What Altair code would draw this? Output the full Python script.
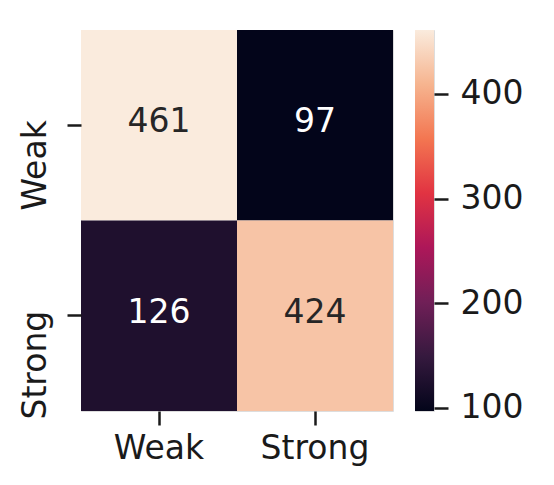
import altair as alt
import pandas as pd

# ---- data ----
categories = ["Weak", "Strong"]
actual = ["Weak", "Weak", "Strong", "Strong"]
predicted = ["Weak", "Strong", "Weak", "Strong"]
counts = [461, 97, 126, 424]

# rocket colormap stops (seaborn)
rocket_colors = ["#03051a", "#35193e", "#701f57", "#ad1759",
                 "#e13342", "#f37651", "#f6b48f", "#faebdd"]
vmin, vmax = 97, 461
cbar_ticks = [100, 200, 300, 400]

df = pd.DataFrame({"actual": actual, "predicted": predicted, "count": counts})
n = len(rocket_colors)
stops_domain = [vmin + (vmax - vmin) * i / (n - 1) for i in range(n)]
color_scale = alt.Scale(domain=stops_domain, range=rocket_colors, interpolate="rgb")

FONT = "DejaVu Sans"
FS = 33
TXT = "#1a1a1a"

axis_common = dict(domain=False, tickSize=14, tickWidth=2.5, tickColor=TXT,
                   labelFontSize=FS, labelColor=TXT, labelFont=FONT, grid=False)

base = alt.Chart(df).encode(
    x=alt.X("predicted:N", sort=categories, title=None,
            scale=alt.Scale(paddingInner=0, paddingOuter=0),
            axis=alt.Axis(labelAngle=0, labelPadding=7, **axis_common)),
    y=alt.Y("actual:N", sort=categories, title=None,
            scale=alt.Scale(paddingInner=0, paddingOuter=0),
            axis=alt.Axis(labelAngle=270, labelAlign="right", labelBaseline="bottom",
                          labelOffset=-5, labelPadding=15, **axis_common)),
)

rect = base.mark_rect().encode(
    color=alt.Color("count:Q", scale=color_scale, legend=None)
)
text = base.mark_text(fontSize=FS, font=FONT, dy=-3).encode(
    text=alt.Text("count:Q"),
    color=alt.condition(alt.datum.count > 280, alt.value("#262626"), alt.value("#ffffff")),
)
heatmap = (rect + text).properties(width=312, height=381)

cbar_df = pd.DataFrame({"lo": [vmin], "hi": [vmax]})
gradient = alt.LinearGradient(
    gradient="linear",
    stops=[alt.GradientStop(color=c, offset=i / (n - 1)) for i, c in enumerate(rocket_colors)],
    x1=0, x2=0, y1=1, y2=0,
)
cbar = alt.Chart(cbar_df).mark_rect(color=gradient).encode(
    y=alt.Y("lo:Q", title=None,
            scale=alt.Scale(domain=[vmin, vmax], nice=False, zero=False),
            axis=alt.Axis(orient="right", values=cbar_ticks, labelPadding=12,
                          labelFlush=False, labelOverlap=False, **axis_common)),
    y2="hi:Q",
    x=alt.value(0),
    x2=alt.value(19),
).properties(width=19, height=381)

chart = alt.hconcat(heatmap, cbar, spacing=20).properties(
    padding={"left": 10, "top": 21, "right": 5, "bottom": 5}
).configure_view(stroke=None).configure(font=FONT)

chart.save("out.html", embed_options={"renderer": "svg", "actions": False})
